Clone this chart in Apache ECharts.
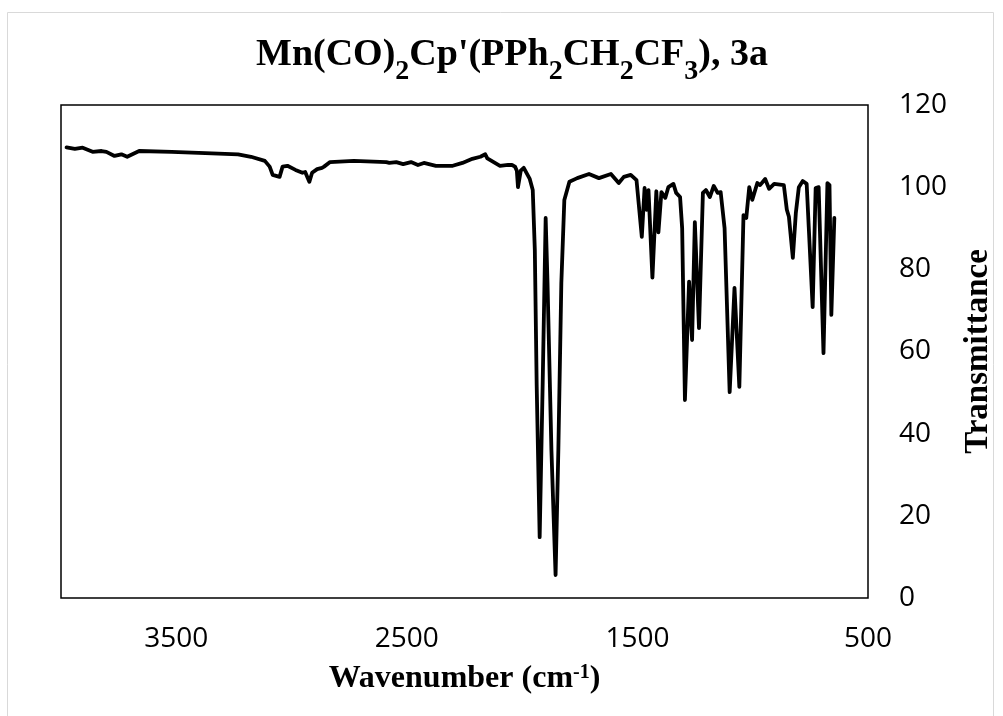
<!DOCTYPE html>
<html>
<head>
<meta charset="utf-8">
<script src="https://cdn.jsdelivr.net/npm/echarts@6/dist/echarts.min.js"></script>
<style>
html,body{margin:0;padding:0;background:#fff;}
#chart{width:1003px;height:716px;}
</style>
</head>
<body>
<div id="chart"></div>
<script>
// Wavenumber (cm-1) and transmittance
var wavenumbers = [
  3976, 3940, 3906, 3863, 3824, 3803, 3768, 3738, 3713, 3661,
  3520, 3374, 3232, 3176, 3116, 3095, 3082, 3052, 3039, 3018,
  2983, 2953, 2941, 2923, 2911, 2889, 2868, 2859, 2833, 2730,
  2589, 2576, 2546, 2516, 2482, 2452, 2426, 2374, 2301, 2259,
  2216, 2181, 2160, 2151, 2096, 2061, 2044, 2031, 2023, 2018,
  2006, 1993, 1967, 1954, 1945, 1937, 1924, 1911, 1898, 1890,
  1873, 1855, 1843, 1830, 1817, 1795, 1761, 1710, 1667, 1615,
  1581, 1559, 1529, 1504, 1481, 1469, 1460, 1452, 1435, 1418,
  1409, 1396, 1379, 1366, 1344, 1332, 1315, 1306, 1294, 1276,
  1263, 1251, 1233, 1216, 1203, 1186, 1169, 1152, 1139, 1122,
  1100, 1079, 1058, 1040, 1028, 1015, 1002, 980, 968, 946,
  929, 907, 865, 852, 843, 826, 813, 800, 783, 766,
  757, 740, 727, 714, 706, 693, 676, 667, 659, 646
];
var transmittance = [
  109.7, 109.3, 109.6, 108.6, 108.8, 108.6, 107.6, 108.0, 107.4, 108.8,
  108.6, 108.3, 108.0, 107.4, 106.4, 105.0, 103.0, 102.5, 105.0, 105.2,
  104.2, 103.5, 103.7, 101.3, 103.5, 104.4, 104.7, 105.0, 106.1, 106.4,
  106.1, 105.9, 106.1, 105.6, 106.1, 105.4, 105.9, 105.2, 105.2, 105.9,
  106.9, 107.4, 108.0, 107.0, 105.2, 105.4, 105.4, 105.0, 104.0, 100.0,
  104.0, 104.7, 102.0, 99.3, 84.7, 52.0, 14.8, 52.0, 92.5, 76.7,
  36.0, 5.6, 36.0, 76.7, 96.9, 101.3, 102.2, 103.2, 102.2, 103.2,
  101.0, 102.5, 103.0, 101.7, 87.9, 99.8, 94.5, 99.3, 78.0, 99.0,
  89.0, 98.8, 97.4, 100.0, 100.8, 98.6, 97.6, 90.0, 48.2, 77.0,
  62.8, 91.5, 65.7, 98.6, 99.3, 97.6, 100.3, 98.6, 98.8, 90.0,
  50.1, 75.5, 51.4, 93.2, 92.5, 100.0, 96.9, 101.0, 100.5, 102.0,
  99.6, 100.8, 100.5, 94.5, 92.8, 82.8, 93.7, 100.0, 101.5, 100.8,
  90.3, 70.8, 99.8, 100.0, 99.8, 59.6, 101.0, 100.5, 68.9, 92.5
];
var xTickLabels = [500, 1500, 2500, 3500];
var yTickLabels = [0, 20, 40, 60, 80, 100, 120];

var seriesData = wavenumbers.map(function (w, i) { return [w, transmittance[i]]; });

var chart = echarts.init(document.getElementById('chart'));
var serif = 'Liberation Serif, Times New Roman, serif';
chart.setOption({
  backgroundColor: '#ffffff',
  animation: false,
  graphic: [{
    type: 'rect',
    shape: { x: 7.5, y: 12.5, width: 986, height: 712 },
    style: { fill: 'none', stroke: '#d9d9d9', lineWidth: 1 },
    silent: true
  }, {
    type: 'text',
    x: 512, y: 55,
    silent: true,
    style: {
      text: '{b|Mn(CO)}{s|2}{b|Cp\'(PPh}{s|2}{b|CH}{s|2}{b|CF}{s|3}{b|), 3a}',
      align: 'center',
      verticalAlign: 'middle',
      fill: '#000',
      rich: {
        b: { fontFamily: serif, fontWeight: 'bold', fontSize: 38, lineHeight: 38, color: '#000' },
        s: { fontFamily: serif, fontWeight: 'bold', fontSize: 28, lineHeight: 28, color: '#000', padding: [33, 0, 0, 0] }
      }
    }
  }],
  grid: {
    left: 61, right: 126, top: 105, bottom: 118,
    show: true, borderColor: '#000', borderWidth: 1.5, backgroundColor: 'transparent'
  },
  xAxis: {
    type: 'value',
    inverse: true,
    min: 500, max: 4000, interval: 500,
    axisLine: { show: false },
    axisTick: { show: false },
    splitLine: { show: false },
    axisLabel: {
      margin: 27,
      fontFamily: 'Open Sans', fontSize: 28, color: '#000',
      formatter: function (v) { return xTickLabels.indexOf(v) >= 0 ? String(v) : ''; }
    },
    name: '{n|Wavenumber (cm}{p|-1}{n|)}',
    nameLocation: 'middle',
    nameGap: 57,
    nameTextStyle: {
      rich: {
        n: { fontFamily: serif, fontWeight: 'bold', fontSize: 32, lineHeight: 32, color: '#000', verticalAlign: 'bottom', padding: [5, 0, 0, 0] },
        p: { fontFamily: serif, fontWeight: 'bold', fontSize: 20, lineHeight: 20, color: '#000', verticalAlign: 'top' }
      }
    }
  },
  yAxis: {
    type: 'value',
    position: 'right',
    min: 0, max: 120, interval: 20,
    axisLine: { show: false },
    axisTick: { show: false },
    splitLine: { show: false },
    axisLabel: {
      margin: 31, align: 'left',
      fontFamily: 'Open Sans', fontSize: 28, color: '#000',
      formatter: function (v) { return yTickLabels.indexOf(v) >= 0 ? String(v) : ''; }
    },
    name: 'Transmittance',
    nameLocation: 'middle',
    nameRotate: 90,
    nameGap: 94,
    nameTextStyle: { fontFamily: serif, fontWeight: 'bold', fontSize: 33, color: '#000' }
  },
  series: [{
    type: 'line',
    data: seriesData,
    showSymbol: false,
    symbol: 'none',
    smooth: false,
    lineStyle: { color: '#000', width: 3.8, join: 'round', cap: 'round' },
    silent: true
  }]
});
</script>
</body>
</html>
